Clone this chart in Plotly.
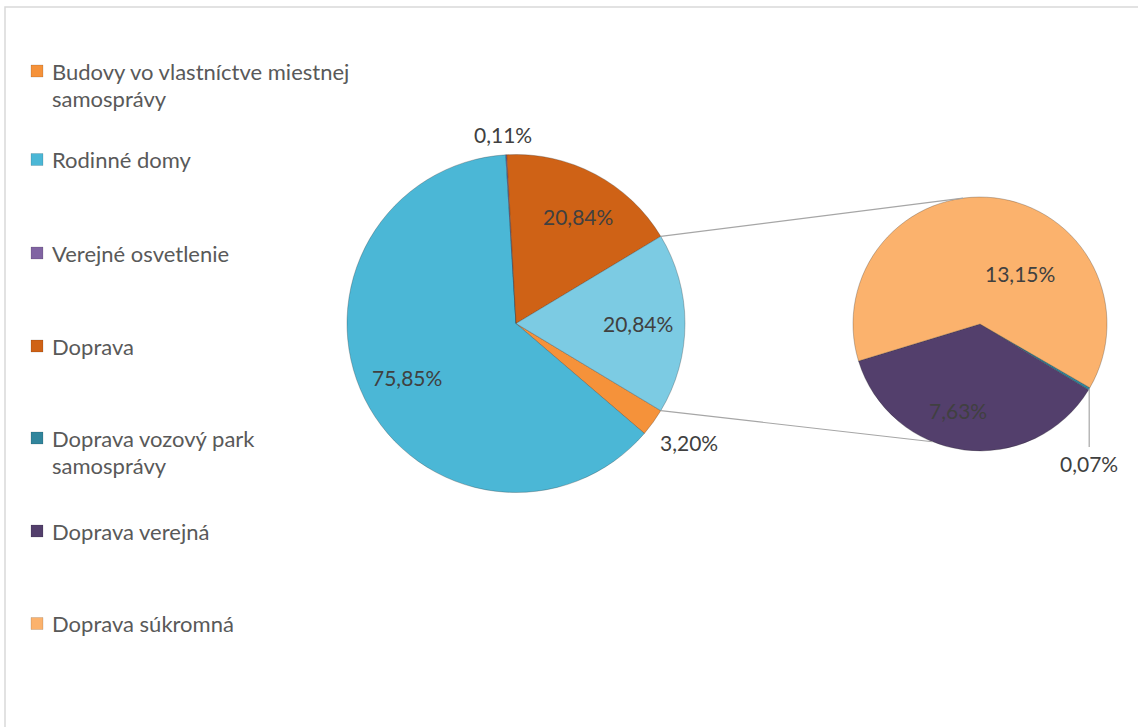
import math
import plotly.graph_objects as go

W, H = 1138, 727

# ---- data -------------------------------------------------------------
categories = [
    "Budovy vo vlastníctve miestnej samosprávy",
    "Rodinné domy",
    "Verejné osvetlenie",
    "Doprava",
    "Doprava vozový park samosprávy",
    "Doprava verejná",
    "Doprava súkromná",
]
shares = [3.20, 75.85, 0.11, 20.84, 0.07, 7.63, 13.15]   # % of total
colors = ["#F5923A", "#4BB7D6", "#8064A2", "#CF6216", "#31859C", "#533F6C", "#FBB26D"]
legend_lines = [
    ["Budovy vo vlastníctve miestnej", "samosprávy"],
    ["Rodinné domy"],
    ["Verejné osvetlenie"],
    ["Doprava"],
    ["Doprava vozový park", "samosprávy"],
    ["Doprava verejná"],
    ["Doprava súkromná"],
]

main_idx = [0, 1, 2, 3]          # slices of the primary pie
sub_idx = [4, 5, 6]              # Doprava breakdown shown in the secondary pie
other_value = shares[3]          # summary slice that is exploded into the secondary pie
other_color = "#7CCBE3"

# ---- layout constants -------------------------------------------------
MAIN_C, MAIN_R = (516.0, 323.5), 169.0
SUB_C, SUB_R = (980.0, 324.0), 127.0
SUB_ROTATION = 120.1
LABEL_FONT = dict(family="Lato, Calibri, sans-serif", size=21, color="#404040")
LEGEND_FONT = dict(family="Lato, Calibri, sans-serif", size=22, color="#595959")
LEGEND_Y = [71, 159.5, 253, 346, 438, 531, 623.5]
LINE_GAP = 27
# label placement: (angle shift from slice middle, radius fraction)
MAIN_LABEL_POS = [(-1.3, 1.24), (0, 0.72), (-0.5, 1.12), (2.0, 0.73), (0, 0.72)]
SUB_LABEL_POS = [None, (7.0, 0.70), (31.5, 0.51)]
CONNECT_SUB_ANGLES = (352.3, 202.0)


def px(x):
    return x / W


def py(y):
    return 1 - y / H


def polar(c, r, ang):
    a = math.radians(ang)
    return c[0] + r * math.sin(a), c[1] - r * math.cos(a)


def fmt(v):
    return f"{v:.2f}".replace(".", ",") + "%"


def slice_angles(values, rotation):
    tot = sum(values)
    out, cur = [], rotation
    for v in values:
        span = v / tot * 360.0
        out.append((cur, cur + span))
        cur += span
    return out


def domain(c, r):
    return dict(x=[px(c[0] - r), px(c[0] + r)], y=[py(c[1] + r), py(c[1] - r)])


main_vals = [shares[i] for i in main_idx] + [other_value]
main_cols = [colors[i] for i in main_idx] + [other_color]
main_names = [categories[i] for i in main_idx] + ["Doprava (spolu)"]
# the summary slice is centred on 3 o'clock, facing the secondary pie
main_total = sum(main_vals)
main_rotation = 90 + other_value / main_total * 360 / 2

sub_vals = [shares[i] for i in sub_idx]
sub_cols = [colors[i] for i in sub_idx]
sub_names = [categories[i] for i in sub_idx]

edge = dict(color="rgba(40,40,40,0.35)", width=0.8)

fig = go.Figure()
fig.add_trace(go.Pie(
    labels=main_names, values=main_vals, sort=False, direction="clockwise",
    rotation=main_rotation, marker=dict(colors=main_cols, line=edge),
    textinfo="none", hoverinfo="label+percent", showlegend=False,
    domain=domain(MAIN_C, MAIN_R),
))
fig.add_trace(go.Pie(
    labels=sub_names, values=sub_vals, sort=False, direction="clockwise",
    rotation=SUB_ROTATION, marker=dict(colors=sub_cols, line=edge),
    textinfo="none", hoverinfo="label+percent", showlegend=False,
    domain=domain(SUB_C, SUB_R),
))

annotations = []
shapes = []

# frame
shapes.append(dict(type="rect", xref="paper", yref="paper",
                   x0=px(5), y0=py(7), x1=px(W + 20), y1=py(H + 20),
                   line=dict(color="#D9D9D9", width=1.5), fillcolor="rgba(0,0,0,0)"))

# primary pie labels
main_ang = slice_angles(main_vals, main_rotation)
for (a0, a1), v, (shift, rf) in zip(main_ang, main_vals, MAIN_LABEL_POS):
    x, y = polar(MAIN_C, MAIN_R * rf, (a0 + a1) / 2 + shift)
    annotations.append(dict(x=px(x), y=py(y), xref="paper", yref="paper", text=fmt(v),
                            showarrow=False, font=LABEL_FONT, xanchor="center", yanchor="middle"))

# secondary pie labels
sub_ang = slice_angles(sub_vals, SUB_ROTATION)
for (a0, a1), v, pos in zip(sub_ang, sub_vals, SUB_LABEL_POS):
    mid = (a0 + a1) / 2
    if pos is None:
        # tiny slice: leader line straight down to the label
        x0, y0 = polar(SUB_C, SUB_R, mid)
        shapes.append(dict(type="line", xref="paper", yref="paper",
                           x0=px(x0), y0=py(y0), x1=px(x0), y1=py(447),
                           line=dict(color="#A6A6A6", width=1.2)))
        annotations.append(dict(x=px(x0), y=py(463), xref="paper", yref="paper", text=fmt(v),
                                showarrow=False, font=LABEL_FONT, xanchor="center", yanchor="middle"))
    else:
        shift, rf = pos
        x, y = polar(SUB_C, SUB_R * rf, mid + shift)
        annotations.append(dict(x=px(x), y=py(y), xref="paper", yref="paper", text=fmt(v),
                                showarrow=False, font=LABEL_FONT, xanchor="center", yanchor="middle"))

# connector lines between the summary slice and the secondary pie
o0, o1 = main_ang[-1]
for a_main, a_sub in zip((o0, o1), CONNECT_SUB_ANGLES):
    x0, y0 = polar(MAIN_C, MAIN_R, a_main)
    x1, y1 = polar(SUB_C, SUB_R, a_sub)
    shapes.append(dict(type="line", xref="paper", yref="paper",
                       x0=px(x0), y0=py(y0), x1=px(x1), y1=py(y1),
                       line=dict(color="#A6A6A6", width=1.2)))

# legend
for lines, col, yc in zip(legend_lines, colors, LEGEND_Y):
    shapes.append(dict(type="rect", xref="paper", yref="paper",
                       x0=px(31), x1=px(43), y0=py(yc - 6), y1=py(yc + 6),
                       fillcolor=col, line=dict(color="rgba(0,0,0,0.25)", width=0.5)))
    for k, t in enumerate(lines):
        annotations.append(dict(x=px(50), y=py(yc + k * LINE_GAP), xref="paper", yref="paper",
                                text=t, showarrow=False, font=LEGEND_FONT,
                                xanchor="left", yanchor="middle"))

fig.update_layout(
    width=W, height=H, margin=dict(l=0, r=0, t=0, b=0),
    paper_bgcolor="white", plot_bgcolor="white",
    shapes=shapes, annotations=annotations, showlegend=False,
)

fig.write_html("out.html")
